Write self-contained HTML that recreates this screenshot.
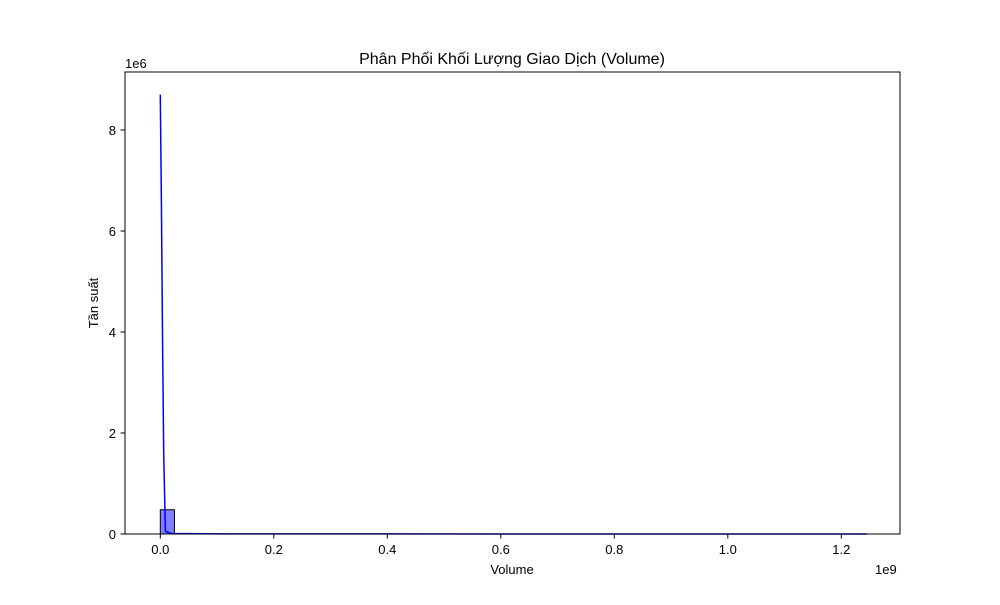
<!DOCTYPE html>
<html><head><meta charset="utf-8"><style>
body{margin:0;background:#fff;}
svg{font-family:"Liberation Sans","DejaVu Sans",sans-serif;}
</style></head><body>
<svg id="chart" width="1000" height="600">
<rect x="0" y="0" width="1000" height="600" fill="#fff"/>
<text x="512" y="64" font-size="16" text-anchor="middle">Phân Phối Khối Lượng Giao Dịch (Volume)</text>
<g id="bars"></g>
<g id="xticks"></g>
<g id="yticks"></g>
<path id="kde" fill="none" stroke="#0000ff" stroke-width="1.5"/>
<rect x="125" y="72" width="775" height="462" fill="none" stroke="#000" stroke-width="1"/>
<text x="512" y="574" font-size="13" text-anchor="middle">Volume</text>
<text x="98" y="303" font-size="13" text-anchor="middle" transform="rotate(-90 98 303)">Tần suất</text>
<text x="125" y="68" font-size="13">1e6</text>
<text x="875" y="574" font-size="13">1e9</text>
</svg>
<script>
const binCounts = [0.48,0.003,0.002,0.001,0.001,0,0,0,0,0,0,0,0,0,0,0,0,0,0,0,0,0,0,0,0,0,0,0,0,0,0,0,0,0,0,0,0,0,0,0,0,0,0,0,0,0,0,0,0,0.001]; // 1e6
const binStart = 0;
const binEnd = 1.245; // 1e9
const kdeX = [0, 0.002, 0.004, 0.006, 0.009, 0.02, 0.1, 1.245];
const kdeY = [8.7, 6.5, 3.8, 1.6, 0.05, 0.01, 0.002, 0];
const xTicks = [0, 0.2, 0.4, 0.6, 0.8, 1.0, 1.2];
const xTickLabels = ["0.0","0.2","0.4","0.6","0.8","1.0","1.2"];
const yTicks = [0, 2, 4, 6, 8];
const yTickLabels = ["0","2","4","6","8"];
const NS="http://www.w3.org/2000/svg";
function sx(v){return 160.3+v*567.5;}
function sy(v){return 534-v*50.5;}
const bars=document.getElementById('bars');
const w=(binEnd-binStart)/binCounts.length;
binCounts.forEach((c,i)=>{
  const r=document.createElementNS(NS,'rect');
  const x0=sx(binStart+i*w),x1=sx(binStart+(i+1)*w);
  r.setAttribute('x',x0);r.setAttribute('width',x1-x0);
  r.setAttribute('y',sy(c));r.setAttribute('height',534-sy(c));
  r.setAttribute('fill','rgba(0,0,255,0.5)');r.setAttribute('stroke','#000');r.setAttribute('stroke-width','1');
  
  
  bars.appendChild(r);
});
document.getElementById('kde').setAttribute('d',kdeX.map((x,i)=>(i?'L':'M')+sx(x)+','+sy(kdeY[i])).join(''));
const xg=document.getElementById('xticks');
xTicks.forEach((t,i)=>{
  const l=document.createElementNS(NS,'line');
  l.setAttribute('x1',sx(t));l.setAttribute('x2',sx(t));l.setAttribute('y1',534);l.setAttribute('y2',538.5);l.setAttribute('stroke','#000');
  
  
  xg.appendChild(l);
  const tx=document.createElementNS(NS,'text');
  tx.setAttribute('x',sx(t));tx.setAttribute('y',554);tx.setAttribute('font-size','13');tx.setAttribute('text-anchor','middle');
  tx.textContent=xTickLabels[i];
  
  
  xg.appendChild(tx);
});
const yg=document.getElementById('yticks');
yTicks.forEach((t,i)=>{
  const l=document.createElementNS(NS,'line');
  l.setAttribute('x1',120.5);l.setAttribute('x2',125);l.setAttribute('y1',sy(t));l.setAttribute('y2',sy(t));l.setAttribute('stroke','#000');
  
  
  yg.appendChild(l);
  const tx=document.createElementNS(NS,'text');
  tx.setAttribute('x',116);tx.setAttribute('y',sy(t)+5);tx.setAttribute('font-size','13');tx.setAttribute('text-anchor','end');
  tx.textContent=yTickLabels[i];
  
  
  yg.appendChild(tx);
});
</script>
</body></html>
